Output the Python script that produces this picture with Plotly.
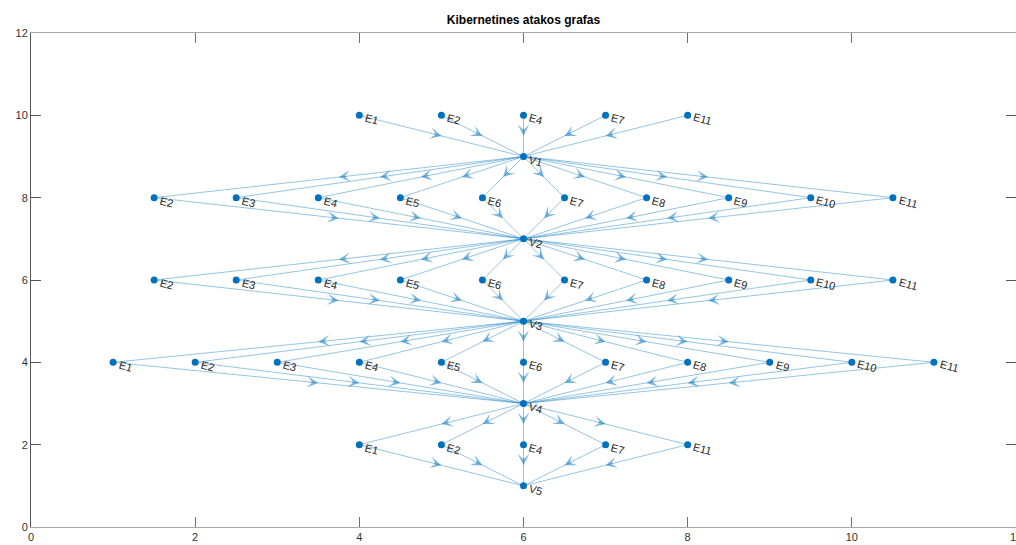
import math
import plotly.graph_objects as go

# ---- data ----
top_x = [4, 5, 6, 7, 8]
top_labels = ["E1", "E2", "E4", "E7", "E11"]
top_y = 10

mid_x = [1.5, 2.5, 3.5, 4.5, 5.5, 6.5, 7.5, 8.5, 9.5, 10.5]
mid_labels = ["E2", "E3", "E4", "E5", "E6", "E7", "E8", "E9", "E10", "E11"]
lvl2_y = 8
lvl3_y = 6

wide_x = [1, 2, 3, 4, 5, 6, 7, 8, 9, 10, 11]
wide_labels = ["E1", "E2", "E3", "E4", "E5", "E6", "E7", "E8", "E9", "E10", "E11"]
lvl4_y = 4

bot_x = [4, 5, 6, 7, 8]
bot_labels = ["E1", "E2", "E4", "E7", "E11"]
lvl5_y = 2

v_labels = ["V1", "V2", "V3", "V4", "V5"]
v_x = [6, 6, 6, 6, 6]
v_y = [9, 7, 5, 3, 1]

x_ticks = [0, 2, 4, 6, 8, 10, 12]
y_ticks = [0, 2, 4, 6, 8, 10, 12]

# ---- build nodes & edges ----
nodes = []  # (label, x, y)
edges = []  # (x0, y0, x1, y1)


def add_layer(xs, labels, y, src, dst):
    for x, lab in zip(xs, labels):
        nodes.append((lab, x, y))
        if src is not None:
            edges.append((src[0], src[1], x, y))
        if dst is not None:
            edges.append((x, y, dst[0], dst[1]))


V = list(zip(v_x, v_y))
add_layer(top_x, top_labels, top_y, None, V[0])
add_layer(mid_x, mid_labels, lvl2_y, V[0], V[1])
add_layer(mid_x, mid_labels, lvl3_y, V[1], V[2])
add_layer(wide_x, wide_labels, lvl4_y, V[2], V[3])
add_layer(bot_x, bot_labels, lvl5_y, V[3], V[4])
for lab, x, y in zip(v_labels, v_x, v_y):
    nodes.append((lab, x, y))

# ---- layout geometry ----
W, H = 1016, 545
ML, MR, MT, MB = 31, 0, 33, 18
xr = [0, 12]
yr = [0, 12]
sx = (W - ML - MR) / (xr[1] - xr[0])
sy = (H - MT - MB) / (yr[1] - yr[0])

edge_col = "rgba(0,114,189,0.42)"
arrow_col = "rgba(0,114,189,0.52)"
node_col = "#0072BD"
font_fam = "Liberation Sans, Arial, Helvetica, sans-serif"

ex, ey = [], []
for x0, y0, x1, y1 in edges:
    ex += [x0, x1, None]
    ey += [y0, y1, None]

fig = go.Figure()
fig.add_trace(go.Scatter(x=ex, y=ey, mode="lines",
                         line=dict(color=edge_col, width=1),
                         hoverinfo="skip", showlegend=False))
fig.add_trace(go.Scatter(x=[n[1] for n in nodes], y=[n[2] for n in nodes],
                         mode="markers",
                         marker=dict(color=node_col, size=7),
                         hoverinfo="skip", showlegend=False))

annotations = []
# arrows at edge midpoints
for x0, y0, x1, y1 in edges:
    mx, my = (x0 + x1) / 2, (y0 + y1) / 2
    dpx = (x1 - x0) * sx
    dpy = -(y1 - y0) * sy
    L = math.hypot(dpx, dpy)
    ux, uy = dpx / L, dpy / L
    tail = 9
    annotations.append(dict(
        x=mx, y=my, xref="x", yref="y",
        ax=-ux * tail, ay=-uy * tail, axref="pixel", ayref="pixel",
        showarrow=True, arrowhead=3, arrowsize=1.9, arrowwidth=1,
        arrowcolor=arrow_col, text="", standoff=0,
    ))

# node labels
for lab, x, y in nodes:
    annotations.append(dict(
        x=x, y=y, xref="x", yref="y", text=lab, showarrow=False,
        xanchor="left", yanchor="middle", xshift=2, yshift=-4,
        textangle=15,
        font=dict(family=font_fam, size=11, color="#262626"),
    ))

fig.update_layout(
    width=W, height=H, autosize=False,
    margin=dict(l=ML, r=MR, t=MT, b=MB, pad=0, autoexpand=False),
    paper_bgcolor="white", plot_bgcolor="white",
    showlegend=False,
    title=dict(text="<b>Kibernetines atakos grafas</b>", x=(ML + (W - MR)) / 2 / W,
               xanchor="center", y=1 - 20 / H, yanchor="middle",
               font=dict(family=font_fam, size=12, color="#000000")),
    annotations=annotations,
    xaxis=dict(range=xr, tickvals=x_ticks, ticktext=[str(t) for t in x_ticks],
               automargin=False,
               showgrid=False, zeroline=False, showline=True, linecolor="#a8a8a8",
               linewidth=1, mirror="ticks", ticks="inside", ticklen=10,
               tickcolor="#6e6e6e", tickwidth=1, ticklabeloverflow="allow",
               tickfont=dict(family=font_fam, size=11, color="#333333")),
    yaxis=dict(range=yr, tickvals=y_ticks, ticktext=[str(t) for t in y_ticks],
               automargin=False,
               showgrid=False, zeroline=False, showline=True, linecolor="#555555",
               linewidth=1, mirror="ticks", ticks="inside", ticklen=10,
               tickcolor="#555555", tickwidth=1,
               tickfont=dict(family=font_fam, size=11, color="#333333")),
)

fig.write_html(
    "out.html",
    config={"responsive": False, "displayModeBar": False},
    post_script="document.body.style.margin='0';document.body.style.overflow='hidden';",
)
